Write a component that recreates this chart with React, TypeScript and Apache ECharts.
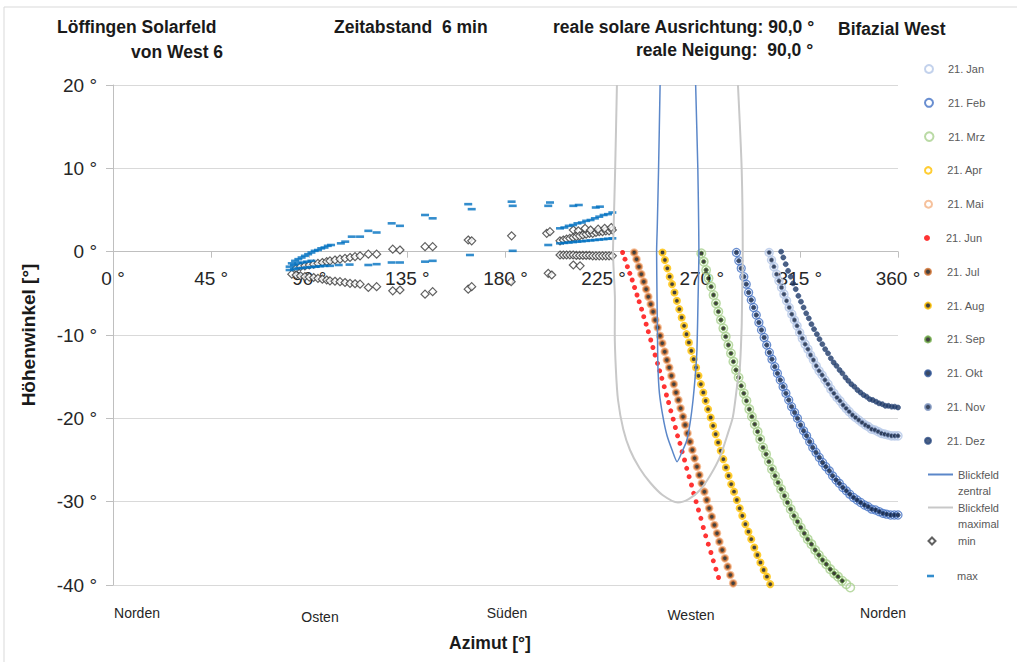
import React, { useEffect, useRef } from "react";
import * as echarts from "echarts";

const monthNames = ["21. Jan", "21. Feb", "21. Mrz", "21. Apr", "21. Mai", "21. Jun", "21. Jul", "21. Aug", "21. Sep", "21. Okt", "21. Nov", "21. Dez"];
const compassLabels = ["Norden", "Osten", "Süden", "Westen", "Norden"];

// sun paths (azimuth °, elevation °)
const junAz = [233.7,234.8,235.9,237.0,238.1,239.2,240.3,241.3,242.4,243.4,244.5,245.5,246.6,247.6,248.6,249.7,250.7,251.7,252.8,253.8,254.8,255.8,256.9,257.9,258.9,260.0,261.0,262.1,263.1,264.2,265.3,266.3,267.4,268.5,269.6,270.7,271.8,273.0,274.2,275.3,276.5,277.7];
const junEl = [-0.1,-0.9,-1.8,-2.6,-3.4,-4.3,-5.2,-6.0,-6.9,-7.8,-8.7,-9.6,-10.6,-11.5,-12.4,-13.4,-14.3,-15.2,-16.2,-17.2,-18.1,-19.1,-20.1,-21.1,-22.1,-23.0,-24.0,-25.0,-26.0,-27.0,-28.0,-29.0,-30.0,-31.0,-32.0,-33.1,-34.1,-35.1,-36.1,-37.1,-38.1,-39.1];

const maiJulAz = [239.0,240.1,241.2,242.3,243.4,244.5,245.5,246.6,247.7,248.7,249.8,250.9,251.9,253.0,254.0,255.1,256.1,257.2,258.2,259.3,260.3,261.4,262.4,263.5,264.6,265.7,266.7,267.8,268.9,270.0,271.2,272.3,273.4,274.6,275.8,277.0,278.1,279.4,280.6,281.9,283.1,284.4];
const maiJulEl = [-0.1,-0.9,-1.8,-2.7,-3.6,-4.5,-5.4,-6.3,-7.2,-8.2,-9.1,-10.1,-11.0,-12.0,-13.0,-13.9,-14.9,-15.9,-16.9,-17.8,-18.8,-19.8,-20.8,-21.8,-22.8,-23.8,-24.8,-25.8,-26.8,-27.8,-28.8,-29.8,-30.8,-31.8,-32.8,-33.8,-34.8,-35.8,-36.8,-37.8,-38.8,-39.8];

const aprAugAz = [252.0,253.1,254.2,255.3,256.4,257.5,258.6,259.7,260.8,261.9,263.0,264.1,265.2,266.3,267.4,268.5,269.6,270.7,271.8,272.9,274.1,275.2,276.4,277.5,278.7,279.9,281.1,282.3,283.5,284.8,286.1,287.4,288.6,290.0,291.4,292.7,294.1,295.5,296.9,298.4,299.9,301.4];
const aprAugEl = [-0.1,-1.0,-2.0,-3.0,-3.9,-4.9,-5.9,-6.9,-7.9,-8.9,-9.9,-10.9,-11.9,-12.9,-13.9,-14.9,-15.9,-16.9,-17.9,-18.9,-19.9,-20.9,-21.9,-22.9,-23.9,-24.9,-25.9,-26.9,-27.9,-28.8,-29.8,-30.8,-31.7,-32.7,-33.6,-34.5,-35.5,-36.4,-37.3,-38.2,-39.0,-39.9];

const mrzSepAz = [269.8,270.9,272.0,273.1,274.3,275.4,276.5,277.6,278.8,279.9,281.0,282.2,283.4,284.5,285.7,286.9,288.1,289.3,290.5,291.8,293.0,294.3,295.6,296.8,298.1,299.5,300.8,302.2,303.6,305.0,306.4,307.9,309.3,310.8,312.3,313.9,315.4,317.0,318.6,320.3,322.0,323.7,325.4,327.1,328.9,330.7,332.5,334.4,336.3,338.1];
const mrzSepEl = [-0.2,-1.2,-2.2,-3.2,-4.2,-5.2,-6.2,-7.2,-8.2,-9.2,-10.2,-11.2,-12.2,-13.2,-14.2,-15.1,-16.1,-17.0,-17.9,-18.9,-19.8,-20.7,-21.6,-22.5,-23.5,-24.3,-25.2,-26.1,-26.9,-27.7,-28.5,-29.3,-30.1,-30.9,-31.7,-32.4,-33.1,-33.8,-34.5,-35.1,-35.8,-36.4,-37.0,-37.5,-38.1,-38.6,-39.0,-39.5,-39.9,-40.3];

const febOktAz = [285.9,287.0,288.1,289.3,290.4,291.5,292.7,293.8,295.0,296.2,297.4,298.6,299.8,301.0,302.2,303.5,304.7,306.0,307.3,308.6,309.9,311.2,312.6,313.9,315.3,316.7,318.1,319.5,320.9,322.4,323.9,325.4,326.9,328.5,330.0,331.6,333.1,334.7,336.3,337.9,339.6,341.2,342.9,344.6,346.3,348.0,349.7,351.4,353.1,354.8,356.6,358.3,360.0];
const febOktEl = [-0.1,-1.1,-2.0,-3.0,-3.9,-4.9,-5.8,-6.7,-7.6,-8.5,-9.4,-10.3,-11.2,-12.1,-12.9,-13.8,-14.6,-15.4,-16.2,-17.0,-17.8,-18.6,-19.3,-20.0,-20.8,-21.5,-22.1,-22.8,-23.5,-24.1,-24.7,-25.3,-25.8,-26.3,-26.9,-27.4,-27.8,-28.3,-28.7,-29.1,-29.5,-29.8,-30.1,-30.4,-30.6,-30.9,-31.0,-31.2,-31.4,-31.5,-31.6,-31.6,-31.6];

const janNovAz = [300.9,302.0,303.1,304.3,305.4,306.6,307.7,308.9,310.1,311.3,312.5,313.7,314.9,316.1,317.4,318.7,319.9,321.2,322.5,323.8,325.2,326.5,327.9,329.2,330.6,332.0,333.4,334.8,336.2,337.6,339.1,340.5,342.0,343.5,345.0,346.4,347.9,349.4,350.9,352.4,353.9,355.4,357.0,358.5,360.0];
const janNovEl = [-0.1,-1.0,-1.8,-2.7,-3.5,-4.3,-5.1,-5.9,-6.7,-7.5,-8.2,-8.9,-9.7,-10.4,-11.1,-11.7,-12.4,-13.0,-13.7,-14.3,-14.8,-15.4,-15.9,-16.5,-17.0,-17.5,-17.9,-18.4,-18.8,-19.2,-19.6,-19.9,-20.2,-20.5,-20.8,-21.0,-21.3,-21.4,-21.6,-21.8,-21.9,-22.0,-22.1,-22.1,-22.1];

const dezAz = [306.4,307.4,308.5,309.6,310.8,311.9,313.1,314.3,315.5,316.7,317.9,319.1,320.3,321.5,322.8,324.0,325.3,326.6,327.9,329.2,330.5,331.8,333.2,334.5,335.9,337.2,338.6,340.0,341.4,342.8,344.2,345.6,347.0,348.4,349.9,351.3,352.8,354.2,355.6,357.1,358.5,360.0];
const dezEl = [0.0,-0.7,-1.5,-2.3,-3.0,-3.8,-4.5,-5.3,-6.0,-6.7,-7.4,-8.0,-8.7,-9.3,-9.9,-10.5,-11.1,-11.7,-12.2,-12.8,-13.3,-13.7,-14.2,-14.6,-15.1,-15.5,-15.9,-16.2,-16.6,-16.9,-17.2,-17.4,-17.7,-17.8,-18.0,-18.2,-18.3,-18.5,-18.5,-18.6,-18.6,-18.7];

// field of view outlines
const centralAz = [250.9,250.2,249.6,249.3,249.5,249.7,249.9,250.6,252.2,254.0,256.4,258.7,261.0,263.2,264.8,266.0,267.0,267.8,268.3,268.7,268.5,268.2,267.2];
const centralEl = [20,10,3,0,-5.8,-10,-13.8,-17,-19.8,-22.0,-23.8,-25.2,-24.0,-22.6,-20.3,-17.8,-15,-11.8,-5.8,0,5,10,20];
const maximalAz = [231.1,230.3,229.6,229.3,230.2,230.1,230.6,231.6,234.0,237.1,241.5,246.3,252.0,259.1,264.0,269.2,274.0,278.4,282.0,284.3,286.5,287.5,288.3,288.5,288.8,288.3,286.6];
const maximalEl = [20,10,3,0,-5.8,-9.7,-14,-17.8,-21.3,-23.8,-26.0,-27.7,-29.2,-30.1,-29.7,-28.6,-26.8,-24.6,-21.8,-19.8,-15.5,-13.8,-9,-5.8,0,10,20];

const minPoints = [
  [84,-2.0],[86,-1.8],[88,-1.7],[90,-1.6],[92,-1.5],[94,-1.4],[96,-1.3],[98,-1.2],[99.5,-1.1],[101.8,-1.0],[104.1,-0.9],[106.4,-0.8],[108.7,-0.7],[111,-0.6],[113.3,-0.5],
  [117.1,-0.3],[120.9,-0.3],[128.3,0.3],[131.6,0.2],[143.1,0.6],[146.6,0.6],[162.9,1.4],[164.5,1.3],[182.8,1.9],[198.9,2.2],[200.4,2.4],[211.1,2.6],[213.4,2.5],
  [205,1.3],[206.5,1.4],[208,1.5],[209.5,1.6],[211,1.7],[212.5,1.8],[214,1.9],[215.5,2.0],[217,2.1],[218.5,2.2],[220,2.2],[221.5,2.3],[223,2.4],[224.5,2.4],[226,2.5],[227.5,2.5],[229,2.6],[216.5,2.8],[219,2.6],[222.5,2.7],[225.5,2.8],[228.5,2.9],
  [205,-0.4],[206.5,-0.4],[208,-0.4],[209.5,-0.4],[211,-0.4],[212.5,-0.45],[214,-0.45],[215.5,-0.45],[217,-0.45],[218.5,-0.45],[220,-0.5],[221.5,-0.5],[223,-0.5],[224.5,-0.5],[226,-0.5],[227.5,-0.5],[229,-0.5],
  [117.1,-4.3],[120.9,-4.2],[128.3,-4.7],[131.6,-4.6],[143.1,-5.1],[146.6,-4.8],[162.9,-4.5],[164.5,-4.2],[182.6,-3.6],[199.6,-2.6],[201.2,-2.8],[211.1,-1.6],[214.2,-1.7],
  [82,-2.7],[84,-2.8],[86,-2.9],[88,-3.0],[90,-3.05],[92,-3.1],[94,-3.2],[96,-3.3],[98,-3.4],[99.5,-3.5],[101.8,-3.55],[104.1,-3.6],[106.4,-3.7],[108.7,-3.8],[111,-3.85],[113.3,-3.9],
];

const maxPoints = [
  [82,-1.4],[83.5,-1.1],[85,-0.9],[86.5,-0.7],[88,-0.5],[89.5,-0.3],[91,-0.1],[92.5,0.1],[94,0.2],[95.5,0.4],[97,0.5],[98.5,0.7],[100,0.8],
  [104.5,1.0],[106.5,1.2],[109.5,1.8],[113.3,1.8],[117.1,2.5],[120.9,2.3],[127.8,3.4],[131.6,3.1],[143.1,4.4],[146.6,4.0],[162.9,5.7],[164.5,5.1],[182.8,6.0],[183.3,5.5],[199.6,5.5],[200.4,5.9],[211.1,5.5],[213.6,5.6],[221.4,5.3],[223.3,5.4],
  [205,2.8],[207,2.9],[209,3.1],[211,3.2],[213,3.4],[215,3.5],[217,3.7],[219,3.8],[221,4.0],[223,4.2],[225,4.4],[227,4.5],[229,4.7],
  [117.1,-1.6],[120.9,-1.5],[127.8,-1.3],[131.6,-1.3],[143.1,-1.2],[146.6,-1.1],[163.7,-0.4],[183.3,0.1],[199.6,0.8],
  [81,-2.2],[83,-2.1],[85,-2.0],[87,-1.95],[89,-1.9],[91,-1.85],[93,-1.8],[95,-1.75],[97,-1.7],[99.5,-1.7],[103.5,-1.6],[108.5,-1.55],
  [81,-1.8],[83,-1.6],[85,-1.4],[87,-1.3],[89,-1.2],[91,-1.1],
  [205,1.0],[207,1.05],[209,1.1],[211,1.15],[213,1.2],[215,1.25],[217,1.3],[219,1.35],[221,1.4],[223,1.45],[225,1.5],[227,1.55],[229,1.6],
];

const zip = (az: number[], el: number[]) => az.map((a, i) => [a, el[i]]);

const FONT = "Liberation Sans";
const clear = "rgba(255,255,255,0)";

const Y_MIN = -40;
const Y_MAX = 20;
const GRID_TOP = 85;
const GRID_H = 500;

function buildOption() {
  const monthStyles = [
    { data: zip(janNovAz, janNovEl), size: 8, itemStyle: { color: clear, borderColor: "#B4C7E7", borderWidth: 1.5 } },
    { data: zip(febOktAz, febOktEl), size: 8, itemStyle: { color: clear, borderColor: "#4472C4", borderWidth: 1.3 } },
    { data: zip(mrzSepAz, mrzSepEl), size: 8.5, itemStyle: { color: clear, borderColor: "#A9D18E", borderWidth: 1.5 } },
    { data: zip(aprAugAz, aprAugEl), size: 6.5, itemStyle: { color: clear, borderColor: "#FFC000", borderWidth: 1.6 } },
    { data: zip(maiJulAz, maiJulEl), size: 7, itemStyle: { color: clear, borderColor: "#F4B183", borderWidth: 1.6 } },
    { data: zip(junAz, junEl), size: 5, itemStyle: { color: "#FF0000" } },
    { data: zip(maiJulAz, maiJulEl), size: 5, itemStyle: { color: "#111111", borderColor: "#D07030", borderWidth: 1.6 } },
    { data: zip(aprAugAz, aprAugEl), size: 4.5, itemStyle: { color: "#111111", borderColor: "#FFC000", borderWidth: 1 } },
    { data: zip(mrzSepAz, mrzSepEl).slice(0, -2), size: 4.5, itemStyle: { color: "#111111", borderColor: "#70AD47", borderWidth: 1 } },
    { data: zip(febOktAz, febOktEl), size: 4.5, itemStyle: { color: "#0B1B3A", borderColor: "#2F5597", borderWidth: 1 } },
    { data: zip(janNovAz, janNovEl), size: 4.5, itemStyle: { color: "#0B1B3A", borderColor: "#7F96C0", borderWidth: 1 } },
    { data: zip(dezAz, dezEl), size: 5, itemStyle: { color: "#1F3864", borderColor: "#2B4A80", borderWidth: 0.8 } },
  ];

  const series: any[] = monthStyles.map((m, i) => ({
    name: monthNames[i],
    type: "scatter",
    data: m.data,
    symbol: "circle",
    symbolSize: m.size,
    itemStyle: m.itemStyle,
    clip: false,
    emphasis: { disabled: true },
  }));

  series.push({
    name: "Blickfeld zentral",
    type: "line",
    data: zip(centralAz, centralEl),
    symbol: "none",
    smooth: 0.2,
    lineStyle: { color: "#5B87C9", width: 1.5 },
    clip: true,
  });
  series.push({
    name: "Blickfeld maximal",
    type: "line",
    data: zip(maximalAz, maximalEl),
    symbol: "none",
    smooth: 0.25,
    lineStyle: { color: "#C8C8C8", width: 2 },
    clip: true,
  });
  series.push({
    name: "min",
    type: "scatter",
    data: minPoints,
    symbol: "diamond",
    symbolSize: 8,
    itemStyle: { color: "#FFFFFF", borderColor: "#3A3A3A", borderWidth: 1.2 },
    clip: false,
  });
  series.push({
    name: "max",
    type: "scatter",
    data: maxPoints,
    symbol: "rect",
    symbolSize: [8, 2.6],
    itemStyle: { color: "#0070C0" },
    clip: false,
  });

  const legendSpec: any[] = [
    ...monthNames.map((n, i) => ({ name: n, h: Math.max(monthStyles[i].size, 6), w: 28, left: 924, cy: 69 + 33.8 * i })),
    { name: "Blickfeld zentral", h: 4, w: 25, left: 927, cy: 474.5, multi: "\u00a0\nBlickfeld\nzentral", line: true },
    { name: "Blickfeld maximal", h: 4, w: 25, left: 927, cy: 507.5, multi: "\u00a0\nBlickfeld\nmaximal", line: true },
    { name: "min", h: 7, w: 7, left: 927.5, cy: 541, pad: 17.5 },
    { name: "max", h: 2.6, w: 7, left: 927, cy: 576, pad: 18 },
  ];

  const legend = legendSpec.map((s) => ({
    data: [s.name],
    orient: "vertical",
    left: s.left,
    top: s.multi ? s.cy - 24 : s.cy - 7,
    padding: 0,
    itemWidth: s.w,
    itemHeight: s.h,
    selectedMode: false,
    ...(s.line ? { itemStyle: { color: clear, borderWidth: 0, opacity: 0 } } : {}),
    formatter: s.multi ? () => s.multi : undefined,
    textStyle: {
      fontFamily: FONT,
      fontSize: 11,
      color: "#595959",
      lineHeight: s.multi ? 16 : 14,
      padding: s.pad ? [0, 0, 0, s.pad] : 0,
    },
  }));

  const titleStyle = { fontFamily: FONT, fontWeight: "bold", fontSize: 17.5, fill: "#1a1a1a", verticalAlign: "middle", align: "left" };
  const compassX = [137, 320, 507, 691, 883];
  const compassY = [613, 617, 613, 615, 613];

  const graphic: any[] = [
    { type: "rect", shape: { x: 4, y: 7, width: 1040, height: 700 }, style: { fill: "none", stroke: "#D9D9D9", lineWidth: 1 }, silent: true, z: -10 },
    { type: "text", x: 57, y: 27, style: { ...titleStyle, text: "Löffingen Solarfeld" } },
    { type: "text", x: 131, y: 52, style: { ...titleStyle, text: "von West 6" } },
    { type: "text", x: 334, y: 27, style: { ...titleStyle, text: "Zeitabstand  6 min" } },
    { type: "text", x: 553, y: 27, style: { ...titleStyle, text: "reale solare Ausrichtung: 90,0 °" } },
    { type: "text", x: 636, y: 50, style: { ...titleStyle, text: "reale Neigung:  90,0 °" } },
    { type: "text", x: 838, y: 29, style: { ...titleStyle, text: "Bifazial West" } },
    { type: "text", x: 490, y: 643, style: { fontFamily: FONT, fontWeight: "bold", fontSize: 17.5, fill: "#1a1a1a", text: "Azimut [°]", align: "center", verticalAlign: "middle" } },
    { type: "text", x: 28, y: 335, rotation: Math.PI / 2, style: { fontFamily: FONT, fontWeight: "bold", fontSize: 19, fill: "#1a1a1a", text: "Höhenwinkel [°]", align: "center", verticalAlign: "middle" } },
    ...compassLabels.map((t, i) => ({
      type: "text",
      x: compassX[i],
      y: compassY[i],
      style: { fontFamily: FONT, fontSize: 14, fill: "#262626", text: t, align: "center", verticalAlign: "middle" },
    })),
  ];

  // x axis sits on the zero line of the elevation axis
  const zeroOffset = -(GRID_H * (0 - Y_MIN)) / (Y_MAX - Y_MIN);

  return {
    animation: false,
    backgroundColor: "#FFFFFF",
    grid: { left: 113, top: GRID_TOP, width: 785, height: GRID_H, containLabel: false, outerBoundsMode: "none" },
    xAxis: {
      type: "value",
      min: 0,
      max: 360,
      interval: 45,
      position: "bottom",
      offset: zeroOffset,
      axisLine: { show: true, onZero: false, lineStyle: { color: "#BFBFBF", width: 1 } },
      axisTick: { show: true, length: 6, lineStyle: { color: "#BFBFBF" } },
      axisLabel: { formatter: (v: number) => `${v} °`, fontFamily: FONT, fontSize: 19, color: "#262626", margin: 17 },
      splitLine: { show: false },
    },
    yAxis: {
      type: "value",
      min: Y_MIN,
      max: Y_MAX,
      interval: 10,
      axisLine: { show: true, onZero: false, lineStyle: { color: "#BFBFBF", width: 1 } },
      axisTick: { show: true, length: 7, lineStyle: { color: "#BFBFBF" } },
      axisLabel: { formatter: (v: number) => `${v} °`, fontFamily: FONT, fontSize: 19, color: "#262626", margin: 16 },
      splitLine: { show: true, lineStyle: { color: "#D9D9D9", width: 1 } },
    },
    legend,
    graphic,
    series,
  };
}

export default function App() {
  const ref = useRef<HTMLDivElement>(null);
  useEffect(() => {
    if (!ref.current) return;
    const chart = echarts.init(ref.current, null, { renderer: "svg" });
    chart.setOption(buildOption() as any);
    return () => chart.dispose();
  }, []);
  return <div ref={ref} style={{ position: "fixed", left: 0, top: 0, width: 1017, height: 662, background: "#fff" }} />;
}
